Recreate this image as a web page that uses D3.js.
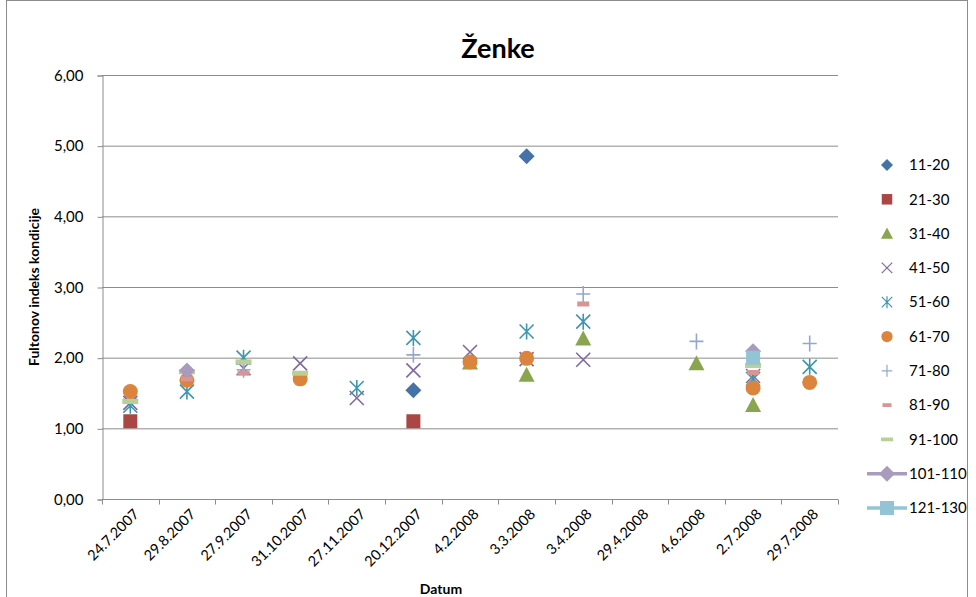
<!DOCTYPE html>
<html>
<head>
<meta charset="utf-8">
<script src="https://cdn.jsdelivr.net/npm/d3@7"></script>
<style>
  body { margin: 0; background: #fff; }
  text { font-family: Lato, "Open Sans", sans-serif; fill: #000; }
</style>
</head>
<body>
<div id="chart"></div>
<script>
// kategorije (datumi) i vrijednosti po seriji
var datumi = ["24.7.2007", "29.8.2007", "27.9.2007", "31.10.2007", "27.11.2007", "20.12.2007",
  "4.2.2008", "3.3.2008", "3.4.2008", "29.4.2008", "4.6.2008", "2.7.2008", "29.7.2008"];
var yTicks = [0, 1, 2, 3, 4, 5, 6];

var s11_20   = [null, null, null, null, null, 1.54, null, 4.85, null, null, null, null, null];
var s21_30   = [1.10, null, null, null, null, 1.10, null, null, null, null, null, null, null];
var s31_40   = [null, null, null, null, null, null, 1.93, 1.76, 2.27, null, 1.92, 1.33, null];
var s41_50   = [1.36, null, 1.85, 1.92, 1.43, 1.82, 2.08, 1.98, 1.97, null, null, 1.74, null];
var s51_60   = [1.32, 1.52, 2.00, null, 1.57, 2.28, null, 2.37, 2.51, null, null, 1.70, 1.87];
var s61_70   = [1.52, 1.68, null, 1.70, null, null, 1.94, 1.99, null, null, null, 1.57, 1.65];
var s71_80   = [null, null, 1.83, null, null, 2.04, null, null, 2.90, null, 2.23, null, 2.20];
var s81_90   = [null, 1.70, 1.78, null, null, null, null, null, 2.76, null, null, 1.79, null];
var s91_100  = [1.38, 1.80, 1.94, 1.78, null, null, null, null, null, null, null, 1.89, null];
var s101_110 = [null, 1.82, null, null, null, null, null, null, null, null, null, 2.09, null];
var s121_130 = [null, null, null, null, null, null, null, null, null, null, null, 2.00, null];

var serije = [
  {name: "11-20", values: s11_20, shape: "diamond", color: "#4572A7"},
  {name: "21-30", values: s21_30, shape: "square", color: "#AA4643"},
  {name: "31-40", values: s31_40, shape: "triangle", color: "#89A54E"},
  {name: "41-50", values: s41_50, shape: "x", color: "#80699B"},
  {name: "51-60", values: s51_60, shape: "star", color: "#3D96AE"},
  {name: "61-70", values: s61_70, shape: "circle", color: "#DB843D"},
  {name: "71-80", values: s71_80, shape: "plus", color: "#92A8CD"},
  {name: "81-90", values: s81_90, shape: "dash", color: "#DA9494"},
  {name: "91-100", values: s91_100, shape: "dash2", color: "#B8CF96"},
  {name: "101-110", values: s101_110, shape: "diamond", color: "#A99BBD", line: true},
  {name: "121-130", values: s121_130, shape: "square", color: "#93C4D6", line: true}
];

var W = 976, H = 597;
var plot = {left: 102, right: 838, top: 75, bottom: 499};

var svg = d3.select("#chart").append("svg")
  .attr("width", W).attr("height", H);

// okvir grafikona
svg.append("rect")
  .attr("x", 6.5).attr("y", 0.5).attr("width", 961).attr("height", 600)
  .attr("fill", "#fff").attr("stroke", "#8c8c8c");

var x = d3.scaleBand().domain(datumi).range([plot.left, plot.right]).padding(0);
var y = d3.scaleLinear().domain([0, 6]).range([plot.bottom, plot.top]);

// mreza
svg.append("g").selectAll("line").data(yTicks).enter().append("line")
  .attr("x1", plot.left).attr("x2", plot.right)
  .attr("y1", function(d) { return y(d) + 0.5; })
  .attr("y2", function(d) { return y(d) + 0.5; })
  .attr("stroke", "#8c8c8c").attr("stroke-width", 1);

// os y
var yAxis = svg.append("g")
  .attr("transform", "translate(" + (plot.left + 0.5) + ",0.5)")
  .call(d3.axisLeft(y).tickValues(yTicks).tickSize(5).tickPadding(14)
    .tickFormat(function(d) { return d3.format(".2f")(d).replace(".", ","); }));
yAxis.select(".domain").attr("stroke", "#8c8c8c");
yAxis.selectAll(".tick line").attr("stroke", "#8c8c8c");
yAxis.selectAll("text").style("font-size", "15px").attr("fill", "#000")
  .style("font-family", "Lato, 'Open Sans', sans-serif");

// os x
var xAxis = svg.append("g")
  .attr("transform", "translate(0," + (plot.bottom + 0.5) + ")");
xAxis.append("line").attr("x1", plot.left).attr("x2", plot.right)
  .attr("stroke", "#8c8c8c");
xAxis.selectAll(".tk").data(d3.range(datumi.length + 1)).enter().append("line")
  .attr("x1", function(i) { return Math.round(plot.left + i * x.step()) + 0.5; })
  .attr("x2", function(i) { return Math.round(plot.left + i * x.step()) + 0.5; })
  .attr("y1", 0).attr("y2", 5).attr("stroke", "#8c8c8c");
xAxis.selectAll(".lbl").data(datumi).enter().append("text")
  .attr("transform", function(d) {
    return "translate(" + (x(d) + x.bandwidth() / 2 + 6) + ",12) rotate(-45)";
  })
  .attr("text-anchor", "end").attr("dy", "0.35em")
  .style("font-size", "14.5px")
  .text(function(d) { return d; });

// naslovi
svg.append("text").attr("x", 498).attr("y", 58).attr("text-anchor", "middle")
  .style("font-size", "27px").style("font-weight", "bold").text("Ženke");
svg.append("text").attr("x", 441).attr("y", 594).attr("text-anchor", "middle")
  .style("font-size", "14px").style("font-weight", "bold").text("Datum");
svg.append("text")
  .attr("transform", "translate(39,287) rotate(-90)")
  .attr("text-anchor", "middle")
  .style("font-size", "14px").style("font-weight", "bold")
  .text("Fultonov indeks kondicije");

// oblici markera
function drawMarker(g, s) {
  var c = s.color;
  if (s.shape === "diamond") {
    g.append("path").attr("d", "M0,-8L8,0L0,8L-8,0Z").attr("fill", c);
  } else if (s.shape === "square") {
    g.append("rect").attr("x", -7).attr("y", -7).attr("width", 14).attr("height", 14).attr("fill", c);
  } else if (s.shape === "triangle") {
    g.append("path").attr("d", "M0,-8L8,7L-8,7Z").attr("fill", c);
  } else if (s.shape === "circle") {
    g.append("circle").attr("r", 7.5).attr("fill", c);
  } else if (s.shape === "x") {
    g.append("path").attr("d", "M-7,-7L7,7M-7,7L7,-7").attr("stroke", c).attr("stroke-width", 1.6).attr("fill", "none");
  } else if (s.shape === "star") {
    g.append("path").attr("d", "M-7,-7L7,7M-7,7L7,-7M0,-8L0,8").attr("stroke", c).attr("stroke-width", 1.6).attr("fill", "none");
  } else if (s.shape === "plus") {
    g.append("path").attr("d", "M-7,0L7,0M0,-8L0,8").attr("stroke", c).attr("stroke-width", 1.6).attr("fill", "none");
  } else if (s.shape === "dash") {
    g.append("rect").attr("x", -6).attr("y", -2.5).attr("width", 12).attr("height", 5).attr("fill", c);
  } else if (s.shape === "dash2") {
    g.append("rect").attr("x", -8).attr("y", -2.5).attr("width", 16).attr("height", 5).attr("fill", c);
  }
}

// tocke
serije.forEach(function(s) {
  var pts = s.values.map(function(v, i) { return {date: datumi[i], value: v}; })
    .filter(function(d) { return d.value !== null; });
  svg.append("g").selectAll("g").data(pts).enter().append("g")
    .attr("transform", function(d) {
      return "translate(" + (x(d.date) + x.bandwidth() / 2) + "," + y(d.value) + ")";
    })
    .each(function() { drawMarker(d3.select(this), s); });
});

// legenda
var leg = svg.append("g").selectAll("g").data(serije).enter().append("g")
  .attr("transform", function(d, i) { return "translate(887," + (165 + i * 34.3) + ")"; });
leg.each(function(s) {
  var g = d3.select(this);
  if (s.line) {
    g.append("line").attr("x1", -20).attr("x2", 20).attr("stroke", s.color).attr("stroke-width", 3.5);
  }
  var m = g.append("g").attr("transform", s.line ? "" : "scale(0.75)");
  drawMarker(m, s);
});
leg.append("text").attr("x", 22).attr("dy", "0.35em")
  .style("font-size", "15px").text(function(d) { return d.name; });
</script>
</body>
</html>
